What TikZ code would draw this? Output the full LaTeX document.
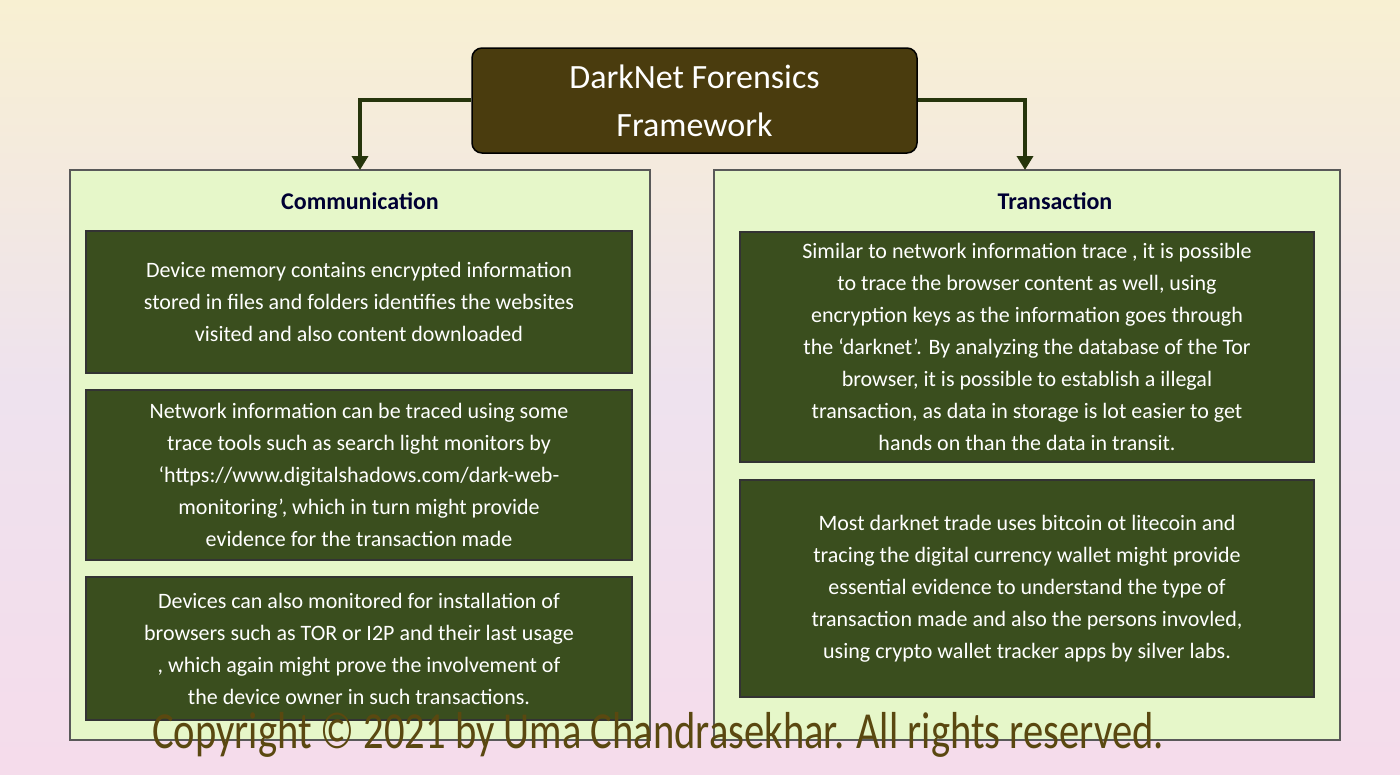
\documentclass[tikz,border=0pt]{standalone}
\usepackage{fontspec}
\setmainfont{Carlito}
\usetikzlibrary{arrows.meta}
\definecolor{bgtop}{HTML}{F8F0D2}
\definecolor{bgmid}{HTML}{EEE2EE}
\definecolor{bgbot}{HTML}{F5DCEB}
\definecolor{titlebox}{HTML}{4A3C0E}
\definecolor{arrowc}{HTML}{26350C}
\definecolor{panel}{HTML}{E6F7C9}
\definecolor{inner}{HTML}{3A4E1E}
\definecolor{copyc}{HTML}{5A4810}
\tikzset{
 panelbox/.style={draw=gray!70!black, line width=2pt, fill=panel},
 innerbox/.style={draw=black!80, line width=1.5pt, fill=inner, inner sep=0pt},
 itext/.style={text=white, align=center, font=\fontsize{22}{32}\selectfont},
 conn/.style={draw=arrowc, line width=4pt, -{Triangle[length=14pt,width=16pt]}},
 head/.style={font=\fontsize{24}{28}\selectfont\bfseries, text=black!80!blue}
}
\begin{document}
\begin{tikzpicture}[x=1pt,y=-1pt]
\shade[top color=bgtop, bottom color=bgbot, middle color=bgmid] (0,0) rectangle (1400,774);
\useasboundingbox (0,0) rectangle (1400,774);
% title
\node[draw=black, line width=1.5pt, fill=titlebox, rounded corners=10pt, minimum width=445pt, minimum height=105pt, text=white, align=center, font=\fontsize{34}{48}\selectfont] (title) at (694.5,100.5) {DarkNet Forensics\\Framework};
% panels
\node[panelbox, minimum width=580pt, minimum height=570pt] (left) at (360,455) {};
\node[panelbox, minimum width=626pt, minimum height=570pt] (right) at (1027,455) {};
\node[head] (lh) at (360,201) {Communication};
\node[head] (rh) at (1055,201) {Transaction};
\coordinate (lt) at (360,170);
\coordinate (rt) at (1025,170);
\draw[conn] (title.west |- 0,100) -| (lt);
\draw[conn] (title.east |- 0,100) -| (rt);
% inner boxes
\node[innerbox, minimum width=546pt, minimum height=142pt] (b1) at (359,302) {};
\node[itext] at (b1) {Device memory contains encrypted information\\stored in files and folders identifies the websites\\visited and also content downloaded};
\node[innerbox, minimum width=546pt, minimum height=170pt] (b2) at (359,475) {};
\node[itext] at (b2) {Network information can be traced using some\\trace tools such as search light monitors by\\‘https://www.digitalshadows.com/dark-web-\\monitoring’, which in turn might provide\\evidence for the transaction made};
\node[innerbox, minimum width=546pt, minimum height=143pt] (b3) at (359,648.5) {};
\node[itext] at (b3) {Devices can also monitored for installation of\\browsers such as TOR or I2P and their last usage\\, which again might prove  the involvement of\\the device owner in such transactions.};
\node[innerbox, minimum width=574pt, minimum height=230pt] (b4) at (1027,347) {};
\node[itext] at (b4) {Similar to network information trace , it is possible\\to trace the browser content as well, using\\encryption keys as the information goes through\\the ‘darknet’. By analyzing the database of the Tor\\browser, it is possible to establish a illegal\\transaction, as data in storage is lot easier to get\\hands on than the data in transit.};
\node[innerbox, minimum width=574pt, minimum height=217pt] (b5) at (1027,588.5) {};
\node[itext] at (b5) {Most darknet trade uses bitcoin ot litecoin and\\tracing the digital currency wallet might provide\\essential evidence to understand the type of\\transaction made and also the persons invovled,\\using crypto wallet tracker apps by silver labs.};
\node[text=copyc, font=\fontsize{52}{56}\selectfont, xscale=0.78, anchor=center] (copy) at (658,735) {Copyright © 2021  by Uma Chandrasekhar. All rights reserved.};
\end{tikzpicture}
\end{document}
